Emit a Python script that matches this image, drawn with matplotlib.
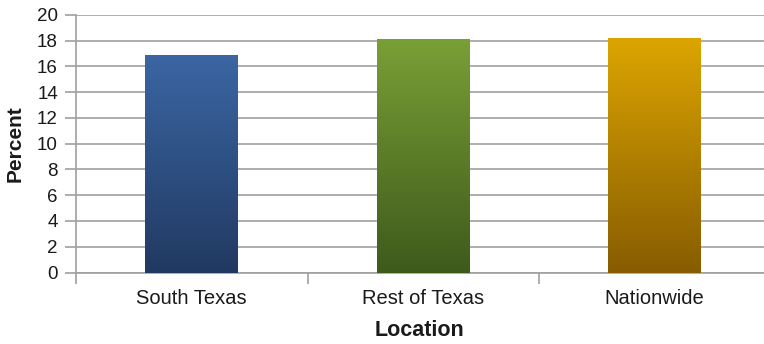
import matplotlib

matplotlib.use("Agg")
import matplotlib.pyplot as plt
import numpy as np
from matplotlib.colors import LinearSegmentedColormap

plt.rcParams["font.family"] = ["Liberation Sans", "DejaVu Sans"]

locations = ["South Texas", "Rest of Texas", "Nationwide"]
percent = [16.9, 18.1, 18.2]
# top / bottom colours of each bar's gradient
top_colors = ["#3b66a3", "#7a9f36", "#dca500"]
bottom_colors = ["#213961", "#3e5a1b", "#875c00"]

fig = plt.figure(figsize=(7.64, 3.44), dpi=100)
ax = fig.add_axes([0.0995, 0.2078, 0.909, 0.7494])

x = np.arange(len(locations))
bars = ax.bar(x, percent, width=0.4, color="none", zorder=3)

grad = np.linspace(0, 1, 256).reshape(-1, 1)
for bar, top, bottom in zip(bars, top_colors, bottom_colors):
    cmap = LinearSegmentedColormap.from_list("g", [bottom, top])
    bx, by = bar.get_x(), bar.get_y()
    im = ax.imshow(
        grad,
        cmap=cmap,
        origin="lower",
        aspect="auto",
        extent=[bx, bx + bar.get_width(), by, by + bar.get_height()],
        zorder=3,
    )
    im.set_clip_path(bar)

ax.set_xlim(-0.5, len(locations) - 0.5)
ax.set_ylim(0, 20)
ax.set_yticks(np.arange(0, 21, 2))
ax.yaxis.grid(True, color="#a0a0a0", linewidth=1.2)
ax.set_axisbelow(True)

ax.set_xticks(np.arange(len(locations) + 1) - 0.5)
ax.set_xticklabels([])
ax.set_xticks(x, minor=True)
ax.set_xticklabels(locations, minor=True, fontsize=14.5, color="#1a1a1a")
ax.tick_params(axis="x", which="minor", length=0, pad=12)
ax.tick_params(axis="x", which="major", length=8, color="#a0a0a0", width=1.2)
ax.tick_params(axis="y", length=8, color="#a0a0a0", width=1.2, labelsize=13.5,
               pad=5, labelcolor="#1a1a1a")

for side in ["top", "right"]:
    ax.spines[side].set_visible(False)
for side in ["left", "bottom"]:
    ax.spines[side].set_color("#a0a0a0")
    ax.spines[side].set_linewidth(1.2)

ax.set_xlabel("Location", fontsize=15.5, fontweight="bold", va="center", color="#1a1a1a")
ax.set_ylabel("Percent", fontsize=15, fontweight="bold", va="center", color="#1a1a1a")
ax.xaxis.set_label_coords(0.495, -0.223)
ax.yaxis.set_label_coords(-0.088, 0.5)

fig.savefig("out.png", dpi=100)
